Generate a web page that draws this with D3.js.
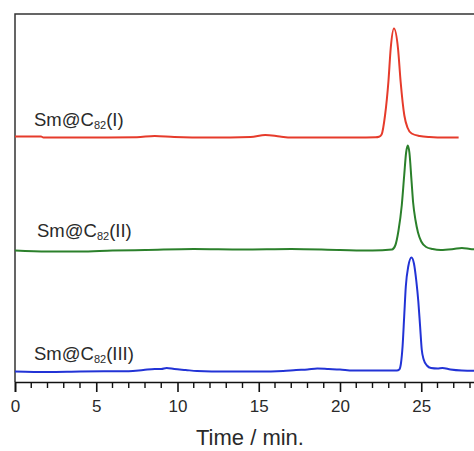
<!DOCTYPE html>
<html>
<head>
<meta charset="utf-8">
<script src="https://cdn.jsdelivr.net/npm/d3@7"></script>
<style>
  html, body { margin: 0; padding: 0; background: #fff; }
  svg { display: block; font-family: "Liberation Sans", Arial, sans-serif; }
</style>
</head>
<body>
<svg id="chart" width="474" height="451"></svg>
<script>
// chromatogram traces: [time (min), signal above own baseline (a.u.)]
const traceI = [
  [0, 1], [1.6, 1], [1.75, 0], [5, 0], [7.5, 0.3], [8.6, 1.5], [9.8, 0.5], [12, 0],
  [14.5, 0.5], [15.4, 2.5], [16.3, 1], [17, 0], [19, 0], [21, 0], [22.2, 0.3],
  [22.4, 0.8], [22.56, 3], [22.77, 22], [22.98, 56], [23.12, 89], [23.32, 109],
  [23.57, 89], [23.73, 56], [23.96, 22], [24.15, 10], [24.41, 4], [24.9, 1.5],
  [25.5, 0.5], [26.5, 0], [27.3, 0]
];
const traceII = [
  [0, 0], [2, -1], [4, -1], [6, 0], [8, 0.5], [11, 1.5], [14, 1], [17, 1.5], [20, 0.5],
  [22, 0], [23.2, 1], [23.4, 5], [23.6, 20], [23.8, 45], [23.95, 75], [24.07, 98],
  [24.17, 105], [24.27, 98], [24.4, 70], [24.5, 48], [24.65, 30], [24.8, 18], [25.0, 9],
  [25.3, 3.5], [25.7, 1.5], [26.2, 0.5], [27, 1.5], [27.5, 2.5], [28, 1.5], [29, 0.5]
];
const traceIII = [
  [0, 0], [2, -0.5], [4, 0], [7, 0.3], [7.9, 1.5], [8.6, 2.5], [9.0, 2.5], [9.33, 3.5],
  [9.8, 2.5], [10.5, 1.5], [11.2, 0.5], [13, 0], [15, 0], [16.5, 0.5], [17.3, 1.5],
  [18, 2], [18.6, 3], [19.3, 2.5], [20, 2], [20.8, 1], [22, 1], [23.5, 1], [23.65, 2],
  [23.75, 8], [23.85, 25], [23.95, 55], [24.05, 85], [24.2, 105], [24.4, 114],
  [24.55, 108], [24.7, 90], [24.82, 70], [24.93, 45], [25.03, 22], [25.15, 12],
  [25.35, 6], [25.6, 3.5], [26.0, 3], [26.3, 3.5], [26.8, 2], [27.5, 1], [29, 0.5]
];
const traceNames = ["(I)", "(II)", "(III)"];
const traceOffsets = [244.5, 131.5, 10.5];
const xTicks = [0, 5, 10, 15, 20, 25];

const svg = d3.select("#chart");
const plotLeft = 15, plotTop = 14, plotBottom = 382;

const x = d3.scaleLinear().domain([0, 29]).range([plotLeft, plotLeft + 29 * 16.25]);
const y = d3.scaleLinear().domain([0, plotBottom - plotTop]).range([plotBottom, plotTop]);

const colors = ["#e63b2b", "#2b802b", "#2233d6"];
const labelPos = [[34, 125.5], [37, 237], [34, 360]];

// frame: top + left border
svg.append("path")
  .attr("d", `M${plotLeft},${plotBottom} V${plotTop} H${x(29)}`)
  .attr("fill", "none")
  .attr("stroke", "#333")
  .attr("stroke-width", 1.5);

// traces
const line = d3.line()
  .x(d => x(d[0]))
  .y(d => y(d[1]))
  .curve(d3.curveMonotoneX);

[traceI, traceII, traceIII].forEach((tr, i) => {
  const off = traceOffsets[i];
  svg.append("path")
    .datum(tr.map(d => [d[0], d[1] + off]))
    .attr("fill", "none")
    .attr("stroke", colors[i])
    .attr("stroke-width", 2)
    .attr("d", line);

  const t = svg.append("text")
    .attr("x", labelPos[i][0])
    .attr("y", labelPos[i][1])
    .attr("font-size", 18.5)
    .attr("fill", "#2a2a2a");
  t.append("tspan").text("Sm@C");
  t.append("tspan").attr("font-size", 11).attr("dy", 3).text("82");
  t.append("tspan").attr("dy", -3).text(traceNames[i]);
});

// bottom axis
const xAxis = d3.axisBottom(x)
  .tickValues(xTicks)
  .tickSize(10)
  .tickPadding(8)
  .tickFormat(d3.format("d"));

const gx = svg.append("g")
  .attr("transform", `translate(0,${plotBottom})`)
  .call(xAxis);
gx.select(".domain").attr("stroke", "#111").attr("stroke-width", 1.6);
gx.selectAll(".tick line").attr("stroke", "#111").attr("stroke-width", 1.6);
gx.selectAll(".tick text")
  .attr("font-size", 17)
  .attr("font-family", "Liberation Sans, Arial, sans-serif")
  .attr("fill", "#2a2a2a");

// minor ticks every minute
gx.selectAll(".minor")
  .data(d3.range(0, 30).filter(v => v % 5 !== 0))
  .enter().append("line")
  .attr("class", "minor")
  .attr("x1", d => x(d)).attr("x2", d => x(d))
  .attr("y1", 0).attr("y2", 6)
  .attr("stroke", "#111")
  .attr("stroke-width", 1.4);

// axis title
svg.append("text")
  .attr("x", 250)
  .attr("y", 445)
  .attr("text-anchor", "middle")
  .attr("font-size", 22)
  .attr("fill", "#2a2a2a")
  .text("Time / min.");
</script>
</body>
</html>
